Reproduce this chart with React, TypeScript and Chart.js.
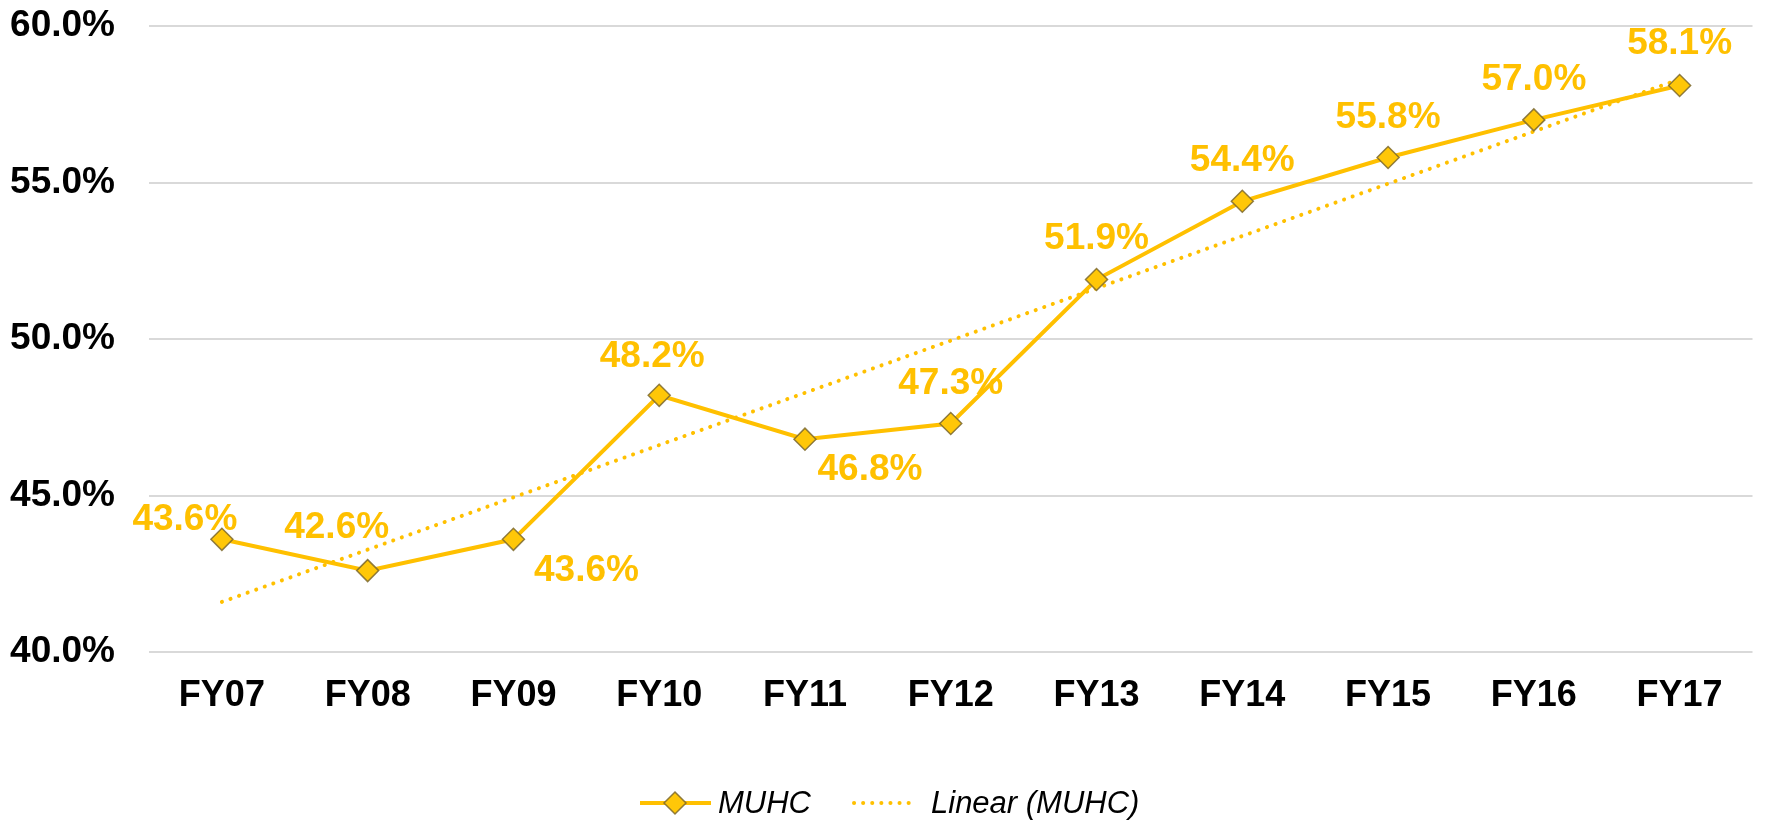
import React, { useEffect, useRef } from "react";
import { Chart, registerables } from "chart.js";

Chart.register(...registerables);

const categories = ["FY07", "FY08", "FY09", "FY10", "FY11", "FY12", "FY13", "FY14", "FY15", "FY16", "FY17"];
const muhcValues = [43.6, 42.6, 43.6, 48.2, 46.8, 47.3, 51.9, 54.4, 55.8, 57.0, 58.1];
// Linear trendline endpoints (FY07 and FY17)
const trendStart = 41.6;
const trendEnd = 58.3;
const yTicks = [40, 45, 50, 55, 60];

const seriesName = "MUHC";
const trendName = "Linear (MUHC)";

const GOLD = "#FFC000";
const FONT = "'Liberation Sans', Arial, Helvetica, sans-serif";

// label placement offsets (px) relative to each point
const labelOffsets: [number, number][] = [
  [-37, -20], [-31, -43], [73, 31], [-7, -39], [65, 31], [0, -40],
  [0, -41], [0, -40], [0, -40], [0, -40], [0, -42],
];

function drawDiamond(ctx: CanvasRenderingContext2D, x: number, y: number, r: number) {
  ctx.save();
  ctx.beginPath();
  ctx.moveTo(x, y - r);
  ctx.lineTo(x + r, y);
  ctx.lineTo(x, y + r);
  ctx.lineTo(x - r, y);
  ctx.closePath();
  ctx.fillStyle = "#FFC708";
  ctx.fill();
  ctx.lineWidth = 1.5;
  ctx.strokeStyle = "rgba(125,105,45,0.85)";
  ctx.stroke();
  ctx.restore();
}

const labelPlugin = {
  id: "labelsAndLegend",
  afterDatasetsDraw(chart: any) {
    const ctx: CanvasRenderingContext2D = chart.ctx;
    const meta = chart.getDatasetMeta(0);
    ctx.save();
    ctx.font = `bold 37px ${FONT}`;
    ctx.fillStyle = GOLD;
    ctx.textAlign = "center";
    ctx.textBaseline = "middle";
    meta.data.forEach((pt: any, i: number) => {
      const [dx, dy] = labelOffsets[i] || [0, -40];
      const v = muhcValues[i];
      ctx.fillText(v.toFixed(1) + "%", pt.x + dx, pt.y + dy);
    });
    ctx.restore();
  },
  afterDraw(chart: any) {
    const ctx: CanvasRenderingContext2D = chart.ctx;
    const ly = 803;
    ctx.save();
    // series sample
    ctx.strokeStyle = GOLD;
    ctx.lineWidth = 4;
    ctx.beginPath();
    ctx.moveTo(640, ly);
    ctx.lineTo(711, ly);
    ctx.stroke();
    drawDiamond(ctx, 675, ly, 11);
    ctx.font = `italic 31px ${FONT}`;
    ctx.fillStyle = "#000";
    ctx.textAlign = "left";
    ctx.textBaseline = "middle";
    ctx.fillText(seriesName, 718, ly + 1);
    // trend sample
    ctx.strokeStyle = GOLD;
    ctx.lineWidth = 4;
    ctx.lineCap = "round";
    ctx.setLineDash([0.1, 9]);
    ctx.beginPath();
    ctx.moveTo(854, ly);
    ctx.lineTo(916, ly);
    ctx.stroke();
    ctx.setLineDash([]);
    ctx.fillText(trendName, 931, ly + 1);
    ctx.restore();
  },
};

export default function App() {
  const ref = useRef<HTMLCanvasElement | null>(null);
  useEffect(() => {
    if (!ref.current) return;
    const trendData: (number | null)[] = categories.map(() => null);
    trendData[0] = trendStart;
    trendData[categories.length - 1] = trendEnd;
    const chart = new Chart(ref.current, {
      type: "line",
      data: {
        labels: categories,
        datasets: [
          {
            label: seriesName,
            data: muhcValues,
            borderColor: GOLD,
            borderWidth: 4,
            pointStyle: "rectRot",
            pointRadius: 11,
            pointHoverRadius: 11,
            pointBackgroundColor: "#FFC708",
            pointBorderColor: "rgba(125,105,45,0.85)",
            pointBorderWidth: 1.5,
            tension: 0,
            order: 0,
          },
          {
            label: trendName,
            data: trendData,
            spanGaps: true,
            borderColor: GOLD,
            borderWidth: 4,
            borderDash: [0.1, 9],
            borderCapStyle: "round",
            pointRadius: 0,
            tension: 0,
            order: 1,
          },
        ],
      },
      options: {
        animation: false,
        responsive: false,
        events: [],
        layout: { padding: { left: 0, right: 6, top: 26, bottom: 100 } },
        plugins: {
          legend: { display: false },
          tooltip: { enabled: false },
        },
        scales: {
          x: {
            offset: true,
            grid: { display: false, drawTicks: false },
            border: { display: false },
            ticks: {
              color: "#000",
              font: { family: FONT, size: 36, weight: "bold" },
              padding: 22,
              maxRotation: 0,
            },
            afterFit: (s: any) => {
              s.height = 70;
              s.paddingLeft = 0;
              s.paddingRight = 0;
            },
          },
          y: {
            min: 40,
            max: 60,
            afterBuildTicks: (s: any) => {
              s.ticks = yTicks.map((v) => ({ value: v }));
            },
            grid: { color: "#d9d9d9", lineWidth: 2, drawTicks: false },
            border: { display: false },
            ticks: {
              color: "#000",
              font: { family: FONT, size: 37, weight: "bold" },
              padding: 34,
              callback: (v: any) => Number(v).toFixed(1) + "%",
            },
            afterFit: (s: any) => {
              s.width = 149;
              s.paddingTop = 0;
              s.paddingBottom = 0;
            },
          },
        },
      },
      plugins: [labelPlugin],
    });
    return () => chart.destroy();
  }, []);
  return (
    <div style={{ position: "fixed", left: 0, top: 0, width: 1765, height: 822, background: "#fff" }}>
      <canvas ref={ref} width={1765} height={822} style={{ width: 1765, height: 822, display: "block" }} />
    </div>
  );
}
